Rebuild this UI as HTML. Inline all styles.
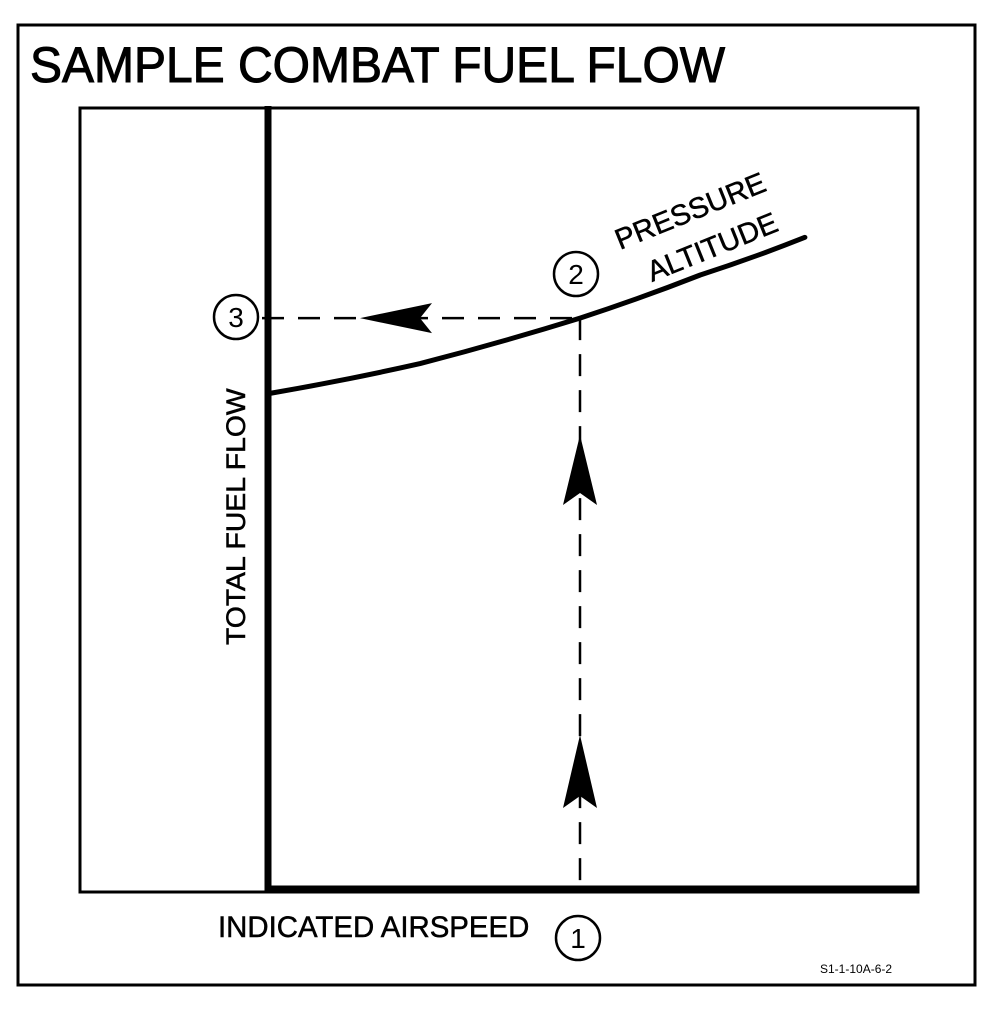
<!DOCTYPE html>
<html><head><meta charset="utf-8"><style>
html,body{margin:0;padding:0;background:#fff;}
svg{display:block;}
text{font-family:"Liberation Sans",sans-serif;fill:#000;}
</style></head><body>
<svg id="chart" width="993" height="1010" viewBox="0 0 993 1010" xmlns="http://www.w3.org/2000/svg">
<rect x="18" y="25" width="957" height="960" fill="none" stroke="#000" stroke-width="3"/>
<text x="30" y="82" font-size="50" stroke="#000" stroke-width="1" transform="translate(30 0) scale(0.96 1) translate(-30 0)">SAMPLE COMBAT FUEL FLOW</text>
<rect x="80" y="108" width="838" height="784" fill="none" stroke="#000" stroke-width="3"/>
<line x1="268" y1="106" x2="268" y2="893" stroke="#000" stroke-width="7"/>
<line x1="265" y1="889" x2="918" y2="889" stroke="#000" stroke-width="7"/>
<text transform="translate(245 645) rotate(-90) scale(1.05 1)" font-size="27" stroke="#000" stroke-width="0.5">TOTAL FUEL FLOW</text>
<text x="218" y="937" font-size="30" stroke="#000" stroke-width="0.5" transform="translate(218 0) scale(0.98 1) translate(-218 0)">INDICATED AIRSPEED</text>
<text transform="translate(620 250) rotate(-22)" font-size="29" stroke="#000" stroke-width="0.5">PRESSURE</text>
<text transform="translate(652 282) rotate(-22)" font-size="29" stroke="#000" stroke-width="0.5">ALTITUDE</text>
<text x="820" y="973" font-size="12">S1-1-10A-6-2</text>
<g id="marks"></g>
</svg>
<script>
const curveX = [0.3, 23.4, 48, 66.5, 82.6];
const curveY = [63.6, 67.4, 73.2, 78.7, 83.5];
const readX = [48];
const readY = [73.2];
const X0=268,X1=918,Y0=892,Y1=108;
function sx(v){return X0+(X1-X0)*v/100;}
function sy(v){return Y0-(Y0-Y1)*v/100;}
const NS="http://www.w3.org/2000/svg";
const g=document.getElementById('marks');
function mk(t,a){const e=document.createElementNS(NS,t);for(const k in a)e.setAttribute(k,a[k]);g.appendChild(e);return e;}
let d='';
for(let i=0;i<curveX.length;i++){
  const px=sx(curveX[i]),py=sy(curveY[i]);
  if(i===0)d+='M'+px+' '+py;
  else{const qx=sx(curveX[i-1]),qy=sy(curveY[i-1]);d+=' Q'+((qx+px)/2)+' '+((qy+py)/2+2)+' '+px+' '+py;}
}
const c=mk('path',{d:d,fill:'none',stroke:'#000','stroke-width':5,'stroke-linecap':'round'});


const px=sx(readX[0]),py=sy(readY[0]);
const h=mk('line',{x1:262,y1:py,x2:px,y2:py,stroke:'#000','stroke-width':2.5,'stroke-dasharray':'22 14'});


const v=mk('line',{x1:px,y1:py,x2:px,y2:Y0,stroke:'#000','stroke-width':2.5,'stroke-dasharray':'22 14'});


const a1=mk('path',{d:'M360 '+py+' L432 '+(py-15)+' L420 '+py+' L432 '+(py+15)+' Z',fill:'#000'});


[[435,505],[735,808]].forEach(function(r,i){
  const a=mk('path',{d:'M'+px+' '+r[0]+' L'+(px+17)+' '+r[1]+' L'+px+' '+(r[1]-12)+' L'+(px-17)+' '+r[1]+' Z',fill:'#000'});
  
  
});
[[236,317,'3'],[576,274,'2'],[578,938,'1']].forEach(function(p){
  const ci=mk('circle',{cx:p[0],cy:p[1],r:22,fill:'#fff',stroke:'#000','stroke-width':2.5});
  
  
  const t=mk('text',{x:p[0],y:p[1]+10,'font-size':28,'text-anchor':'middle'});
  t.textContent=p[2];
  
  
});
</script>
</body></html>
